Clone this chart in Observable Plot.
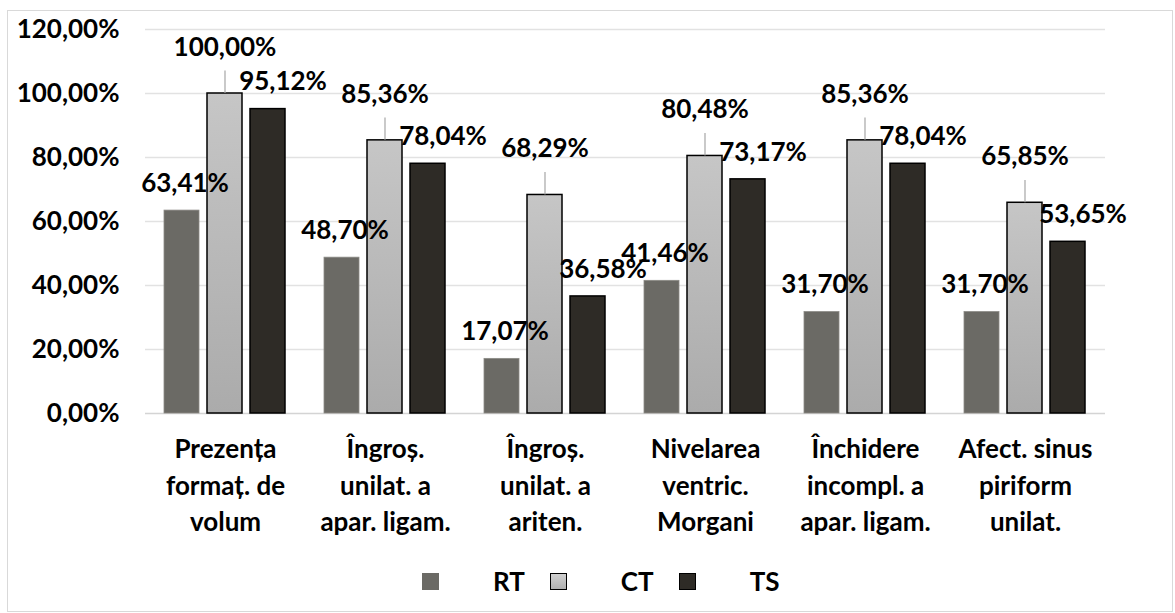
<!DOCTYPE html>
<html><head><meta charset="utf-8">
<script src="https://cdn.jsdelivr.net/npm/d3@7"></script>
<script src="https://cdn.jsdelivr.net/npm/@observablehq/plot@0.6"></script>
<style>
body{margin:0;background:#fff;font-family:Lato,"Open Sans",sans-serif;}
#frame{position:absolute;left:7px;top:10px;width:1166px;height:602px;border:1px solid #d9d9d9;box-sizing:border-box;overflow:hidden;background:#fff}
#chart{position:absolute;left:0;top:0}
#legend{position:absolute;left:414px;top:558px;height:24px;display:flex;align-items:center;font-size:26px;font-weight:bold;color:#000}
#legend .sw{width:17px;height:17px;box-sizing:border-box;margin-right:54px}
#legend .lb{margin-right:25px;line-height:24px}
</style></head>
<body>
<div id="frame"><div id="chart"></div><div id="legend"></div></div>
<script>
const categories = ["Prezența formaț. de volum","Îngroș. unilat. a apar. ligam.","Îngroș. unilat. a ariten.","Nivelarea ventric. Morgani","Închidere incompl. a apar. ligam.","Afect. sinus piriform unilat."];
const categoryLabels = ["Prezența\nformaț. de\nvolum","Îngroș.\nunilat. a\napar. ligam.","Îngroș.\nunilat. a\nariten.","Nivelarea\nventric.\nMorgani","Închidere\nincompl. a\napar. ligam.","Afect. sinus\npiriform\nunilat."];
const series = ["RT","CT","TS"];
const rtValues = [63.41,48.70,17.07,41.46,31.70,31.70];
const ctValues = [100.00,85.36,68.29,80.48,85.36,65.85];
const tsValues = [95.12,78.04,36.58,73.17,78.04,53.65];
const yTicks = [0,20,40,60,80,100,120];

const rows = [];
categories.forEach((c,i)=>{
  rows.push({cat:c, series:"RT", value:rtValues[i]});
  rows.push({cat:c, series:"CT", value:ctValues[i]});
  rows.push({cat:c, series:"TS", value:tsValues[i]});
});
const fmt = v => v.toFixed(2).replace(".",",") + "%";
const bySeries = s => rows.filter(d=>d.series===s);
const font = {fontSize:26, fontWeight:"bold", fill:"#000"};

const svg = Plot.plot({
  width:1164, height:540,
  marginLeft:135, marginRight:65, marginTop:18, marginBottom:138,
  style:{fontFamily:"Lato, 'Open Sans', sans-serif", background:"transparent"},
  fx:{domain:categories, padding:0, axis:null, label:null},
  x:{domain:series, paddingInner:0.18, paddingOuter:0.42, axis:null, label:null},
  y:{domain:[0,120], axis:null, label:null},
  marks:[
    Plot.ruleY(yTicks.filter(d=>d>0), {y:d=>d, stroke:"#e2e2e2", strokeWidth:1.5}),
    Plot.ruleY([0], {stroke:"#d4d4d4", strokeWidth:1.5}),
    Plot.axisY(yTicks, {tickSize:0, tickPadding:26, tickFormat:fmt, label:null, ...font}),
    Plot.barY(bySeries("RT"), {fx:"cat", x:"series", y:"value", fill:"#6b6a65", stroke:"#8c8b86", strokeWidth:0.8}),
    Plot.barY(bySeries("CT"), {fx:"cat", x:"series", y:"value", fill:"url(#ctgrad)", stroke:"#000", strokeWidth:1.5}),
    Plot.barY(bySeries("TS"), {fx:"cat", x:"series", y:"value", fill:"#2e2b26", stroke:"#000", strokeWidth:1.5}),
    Plot.ruleX(bySeries("CT"), {fx:"cat", x:"series", y1:"value", y2:d=>d.value+7, stroke:"#a6a6a6", strokeWidth:1.2}),
    Plot.text(bySeries("RT"), {fx:"cat", x:"series", y:"value", text:d=>fmt(d.value), dx:3, dy:-27, ...font}),
    Plot.text(bySeries("CT"), {fx:"cat", x:"series", y:"value", text:d=>fmt(d.value), dx:0, dy:-46, ...font}),
    Plot.text(bySeries("TS"), {fx:"cat", x:"series", y:"value", text:d=>fmt(d.value), dx:15, dy:-27, ...font}),
    Plot.text(categories, {fx:d=>d, text:(d,i)=>categoryLabels[i], frameAnchor:"bottom", lineAnchor:"top", dy:19, lineHeight:1.4, ...font})
  ]
});
const defs = d3.select(svg).insert("defs", ":first-child");
const g = defs.append("linearGradient").attr("id","ctgrad").attr("x1",0).attr("y1",0).attr("x2",0).attr("y2",1);
g.append("stop").attr("offset","0%").attr("stop-color","#c6c6c6");
g.append("stop").attr("offset","100%").attr("stop-color","#ababab");
document.getElementById("chart").appendChild(svg);

const legendStyles = {RT:"background:#6b6a65;", CT:"background:linear-gradient(#d0d0d0,#b0b0b0);border:1.5px solid #000;", TS:"background:#2e2b26;border:1.5px solid #000;"};
const legend = document.getElementById("legend");
series.forEach(s=>{
  const sw = document.createElement("div"); sw.className="sw"; sw.style.cssText = legendStyles[s];
  const lb = document.createElement("div"); lb.className="lb"; lb.textContent = s;
  legend.appendChild(sw); legend.appendChild(lb);
});
</script>
</body></html>
